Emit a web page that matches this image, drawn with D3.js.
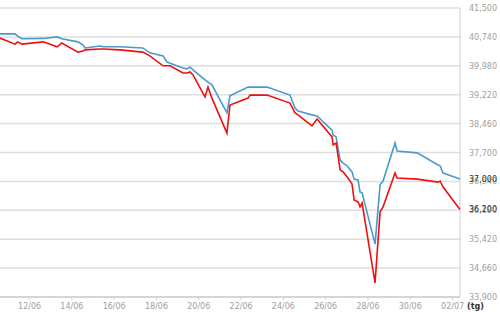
<!DOCTYPE html>
<html lang="vi">
<head>
  <meta charset="UTF-8">
  <title>Giá vàng</title>
  <script src="https://cdn.jsdelivr.net/npm/d3@7"></script>
  <style>
    body { margin: 0; background: #fff; }
    #grafica { width: 500px; height: 312px; }
    text { font-family: "DejaVu Sans", Verdana, sans-serif; }
  </style>
</head>
<body>

<div id="grafica"></div>

<script>
// thoi diem cap nhat gia
times = [
  '2013-06-10 15:00', '2013-06-11 08:00', '2013-06-11 11:00', '2013-06-11 16:00',
  '2013-06-12 16:00', '2013-06-13 08:00', '2013-06-13 13:00', '2013-06-14 07:30',
  '2013-06-14 13:00', '2013-06-14 15:30', '2013-06-15 08:30', '2013-06-15 12:00',
  '2013-06-16 07:00', '2013-06-17 09:00', '2013-06-17 17:00', '2013-06-18 08:00',
  '2013-06-18 12:30', '2013-06-18 16:00', '2013-06-19 06:40', '2013-06-19 11:00',
  '2013-06-19 14:40', '2013-06-19 18:00', '2013-06-20 07:40', '2013-06-20 11:00',
  '2013-06-20 15:30', '2013-06-21 08:30', '2013-06-21 12:00', '2013-06-22 08:30',
  '2013-06-22 10:48', '2013-06-23 06:00', '2013-06-24 08:00', '2013-06-24 13:48',
  '2013-06-24 17:12', '2013-06-25 09:00', '2013-06-25 14:48', '2013-06-26 07:48',
  '2013-06-26 09:00', '2013-06-26 12:24', '2013-06-26 17:00', '2013-06-26 20:18',
  '2013-06-27 00:48', '2013-06-27 06:30', '2013-06-27 08:48', '2013-06-27 13:18',
  '2013-06-27 15:36', '2013-06-27 17:54', '2013-06-28 08:36', '2013-06-28 14:18',
  '2013-06-28 17:42', '2013-06-29 07:18', '2013-06-29 09:36', '2013-06-30 08:18',
  '2013-07-01 08:06', '2013-07-01 10:24', '2013-07-01 13:48', '2013-07-02 09:00'
]

// gia ban (xanh)
giaBan = [
  40820, 40820, 40760, 40690, 40700, 40740, 40690, 40610,
  40530, 40450, 40500, 40480, 40480, 40450, 40320, 40240,
  40080, 40050, 39920, 39900, 39950, 39870, 39610, 39550,
  39480, 38740, 39190, 39420, 39420, 39420, 39210, 38870,
  38790, 38690, 38660, 38290, 38160, 38110, 37500, 37420,
  37350, 37190, 37000, 36980, 36660, 36640, 35290, 36850,
  36950, 37950, 37740, 37690, 37370, 37350, 37160, 37000
]

// gia mua (do)
giaMua = [
  40710, 40550, 40610, 40550, 40610, 40480, 40580, 40340,
  40370, 40400, 40420, 40420, 40400, 40340, 40240, 39980,
  39980, 39980, 39790, 39790, 39820, 39740, 39160, 39420,
  39130, 38210, 38950, 39130, 39210, 39210, 39000, 38740,
  38690, 38400, 38580, 38110, 37900, 37950, 37240, 37190,
  37060, 36870, 36450, 36400, 36270, 36370, 34270, 36140,
  36270, 37160, 37030, 37000, 36920, 36950, 36790, 36200
]

yTicks = [33900, 34660, 35420, 36180, 36940, 37700, 38460, 39220, 39980, 40740, 41500]
xTicks = ['2013-06-12', '2013-06-14', '2013-06-16', '2013-06-18', '2013-06-20',
          '2013-06-22', '2013-06-24', '2013-06-26', '2013-06-28', '2013-06-30', '2013-07-02']

parseT = d3.timeParse('%Y-%m-%d %H:%M')
parseD = d3.timeParse('%Y-%m-%d')

ancho_total = 500
alto_total = 312
margin = {left: 0, right: 40, top: 8, bottom: 15}
ancho = ancho_total - margin.left - margin.right
alto = alto_total - margin.top - margin.bottom

svg = d3
  .select('#grafica')
  .append('svg')
  .attr('width', ancho_total)
  .attr('height', alto_total)

g = svg
  .append('g')
  .attr('transform', 'translate(' + margin.left + ',' + margin.top + ')')

x = d3
  .scaleTime()
  .domain([parseT('2013-06-10 15:00'), parseT('2013-07-02 09:00')])
  .range([0, ancho])

y = d3
  .scaleLinear()
  .domain([33900, 41500])
  .range([alto, 0])

// luoi ngang
g.append('g')
  .selectAll('line')
  .data(yTicks)
  .join('line')
    .attr('x1', 0)
    .attr('x2', ancho)
    .attr('y1', d => y(d))
    .attr('y2', d => y(d))
    .attr('stroke', '#dedede')
    .attr('stroke-width', 1.5)

// vien phai + day
g.append('line')
  .attr('x1', ancho).attr('x2', ancho)
  .attr('y1', 0).attr('y2', alto)
  .attr('stroke', '#cfcfcf')
g.append('line')
  .attr('x1', 0).attr('x2', ancho)
  .attr('y1', alto).attr('y2', alto)
  .attr('stroke', '#cfcfcf')
  .attr('stroke-width', 1.5)

yAxisCall = d3.axisRight(y)
  .tickValues(yTicks)
  .tickSize(0)
  .tickPadding(9)
  .tickFormat(d3.format(','))

yAxis = g.append('g')
  .attr('transform', `translate(${ancho}, 0)`)
  .call(yAxisCall)
yAxis.select('.domain').remove()
yAxis.selectAll('text')
  .attr('fill', '#a0a0a0')
  .attr('font-size', 8)
  .attr('font-family', '"DejaVu Sans", Verdana, sans-serif')

xAxisCall = d3.axisBottom(x)
  .tickValues(xTicks.map(parseD))
  .tickSize(3)
  .tickPadding(3)
  .tickFormat(d3.timeFormat('%d/%m'))

xAxis = g.append('g')
  .attr('transform', `translate(0, ${alto})`)
  .call(xAxisCall)
xAxis.select('.domain').remove()
xAxis.selectAll('line').attr('stroke', '#d0d0d0')
xAxis.selectAll('text')
  .attr('fill', '#a0a0a0')
  .attr('font-size', 8)
  .attr('font-family', '"DejaVu Sans", Verdana, sans-serif')

g.append('text')
  .attr('x', ancho + 7)
  .attr('y', alto + 12)
  .attr('font-size', 8)
  .attr('font-weight', 'bold')
  .attr('fill', '#333')
  .text('(tg)')

// du lieu
dataBan = times.map((t, i) => ({t: parseT(t), v: giaBan[i]}))
dataMua = times.map((t, i) => ({t: parseT(t), v: giaMua[i]}))

linea = d3.line()
  .x(d => x(d.t))
  .y(d => y(d.v))

g.append('path')
  .datum(dataBan)
  .attr('d', linea)
  .attr('fill', 'none')
  .attr('stroke', '#4b9acf')
  .attr('stroke-width', 1.6)

g.append('path')
  .datum(dataMua)
  .attr('d', linea)
  .attr('fill', 'none')
  .attr('stroke', '#ee1111')
  .attr('stroke-width', 1.6)

// nhan gia hien tai
ultimo = [giaBan[giaBan.length - 1], giaMua[giaMua.length - 1]]
g.selectAll('.ultimo')
  .data(ultimo)
  .join('text')
    .attr('class', 'ultimo')
    .attr('x', ancho + 9)
    .attr('y', d => y(d))
    .attr('dy', '0.32em')
    .attr('font-size', 8)
    .attr('fill', '#333')
    .text(d => d3.format(',')(d))
</script>
</body>
</html>
